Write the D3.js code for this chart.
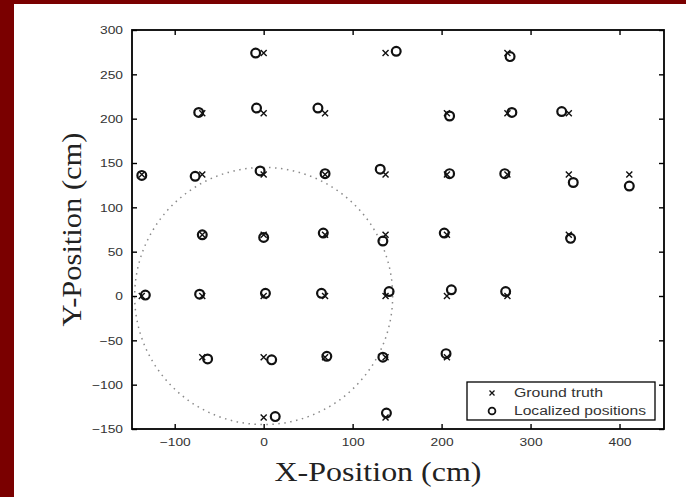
<!DOCTYPE html>
<html>
<head>
<meta charset="utf-8">
<script src="https://cdn.jsdelivr.net/npm/d3@7"></script>
<style>
  body { margin: 0; background: #7a0000; }
  svg { display: block; }
</style>
</head>
<body>
<svg id="chart"></svg>
<script>
// ground truth grid positions (cm)
var truthX = [0, 137, 274,
              -69, 0, 69, 206, 274, 343,
              -137, -69, 0, 69, 137, 206, 274, 343, 411,
              -69, 0, 69, 137, 206, 343,
              -137, -69, 0, 69, 137, 206, 274,
              -69, 0, 69, 137, 206,
              0, 137];
var truthY = [274, 274, 274,
              206, 206, 206, 206, 206, 206,
              137, 137, 137, 137, 137, 137, 137, 137, 137,
              69, 69, 69, 69, 69, 69,
              0, 0, 0, 0, 0, 0, 0,
              -69, -69, -69, -69, -69,
              -137, -137];
// localized positions (cm)
var locX = [-9, 149, 277,
            -73, -8, 61, 209, 279, 335,
            -137, -77, -4, 69, 131, 209, 271, 348, 411,
            -69, 0, 67, 134, 203, 345,
            -133, -72, 2, 65, 141, 211, 272,
            -63, 9, 71, 134, 205,
            13, 138];
var locY = [274, 276, 270,
            207, 212, 212, 203, 207, 208,
            136, 135, 141, 138, 143, 138, 138, 128, 124,
            69, 66, 71, 62, 71, 65,
            1, 2, 3, 3, 5, 7, 5,
            -71, -72, -68, -69, -65,
            -136, -132];

var xTicks = [-100, 0, 100, 200, 300, 400];
var yTicks = [-150, -100, -50, 0, 50, 100, 150, 200, 250, 300];
var legendLabels = ["Ground truth", "Localized positions"];
var coverageRadius = 145; // dotted circle, cm

var W = 686, H = 497;
var margin = { top: 30, right: 22, bottom: 68, left: 132 };

var svg = d3.select("#chart").attr("width", W).attr("height", H);

// red frame + white page
svg.append("rect").attr("width", W).attr("height", H).attr("fill", "#7a0000");
svg.append("rect").attr("x", 14).attr("y", 4)
    .attr("width", W - 14).attr("height", H - 4).attr("fill", "#fff");

var x = d3.scaleLinear().domain([-148, 450]).range([margin.left, W - margin.right]);
var y = d3.scaleLinear().domain([-150, 300]).range([H - margin.bottom, margin.top]);

var tickFont = "'Liberation Sans', Arial, sans-serif";

function styleAxis(g) {
    g.select(".domain").remove();
    g.selectAll(".tick line").attr("stroke", "#000").attr("stroke-width", 1.4);
    g.selectAll("text").attr("fill", "#333")
        .style("font-family", tickFont).style("font-size", "11.5px");
}

// bottom axis
svg.append("g")
    .attr("transform", "translate(0," + y.range()[0] + ")")
    .call(d3.axisBottom(x).tickValues(xTicks).tickSizeInner(-5).tickSizeOuter(0).tickPadding(9))
    .call(styleAxis)
    .selectAll("text").attr("transform", "scale(1.2,1)");

// left axis
svg.append("g")
    .attr("transform", "translate(" + x.range()[0] + ",0)")
    .call(d3.axisLeft(y).tickValues(yTicks).tickSizeInner(-5).tickSizeOuter(0).tickPadding(9))
    .call(styleAxis)
    .selectAll("text").attr("x", -9 / 1.2).attr("transform", "scale(1.2,1)");

// top and right ticks, no labels
svg.append("g")
    .attr("transform", "translate(0," + y.range()[1] + ")")
    .call(d3.axisTop(x).tickValues(xTicks).tickSizeInner(-5).tickSizeOuter(0).tickFormat(""))
    .call(styleAxis);
svg.append("g")
    .attr("transform", "translate(" + x.range()[1] + ",0)")
    .call(d3.axisRight(y).tickValues(yTicks).tickSizeInner(-5).tickSizeOuter(0).tickFormat(""))
    .call(styleAxis);

// box
svg.append("rect")
    .attr("x", x.range()[0]).attr("y", y.range()[1])
    .attr("width", x.range()[1] - x.range()[0])
    .attr("height", y.range()[0] - y.range()[1])
    .attr("fill", "none").attr("stroke", "#000").attr("stroke-width", 1.8);

// dotted coverage circle
svg.append("ellipse")
    .attr("cx", x(0)).attr("cy", y(0))
    .attr("rx", x(coverageRadius) - x(0))
    .attr("ry", y(0) - y(coverageRadius))
    .attr("fill", "none").attr("stroke", "#8a8a8a")
    .attr("stroke-width", 1.5).attr("stroke-dasharray", "1.5,4.5");

var crossPath = "M-3,-3L3,3M-3,3L3,-3";

// ground truth
svg.append("g").selectAll("path")
    .data(truthX.map(function (d, i) { return [d, truthY[i]]; }))
    .enter().append("path")
    .attr("transform", function (d) { return "translate(" + x(d[0]) + "," + y(d[1]) + ")"; })
    .attr("d", crossPath)
    .attr("stroke", "#111").attr("stroke-width", 1.4);

// localized
svg.append("g").selectAll("circle")
    .data(locX.map(function (d, i) { return [d, locY[i]]; }))
    .enter().append("circle")
    .attr("cx", function (d) { return x(d[0]); })
    .attr("cy", function (d) { return y(d[1]); })
    .attr("r", 4.4)
    .attr("fill", "none").attr("stroke", "#111").attr("stroke-width", 2.2);

// legend
var legend = svg.append("g").attr("transform", "translate(467,382)");
legend.append("rect").attr("width", 188).attr("height", 38)
    .attr("fill", "#fff").attr("stroke", "#000").attr("stroke-width", 1.3);
legend.append("path").attr("transform", "translate(25,11)")
    .attr("d", "M-2.5,-2.5L2.5,2.5M-2.5,2.5L2.5,-2.5")
    .attr("stroke", "#111").attr("stroke-width", 1.3);
legend.append("circle").attr("cx", 25).attr("cy", 29).attr("r", 3.4)
    .attr("fill", "none").attr("stroke", "#111").attr("stroke-width", 1.8);
var legendWidths = [89, 132];
legend.selectAll("text.lbl")
    .data(legendLabels)
    .enter().append("text")
    .attr("class", "lbl")
    .attr("x", 47)
    .attr("y", function (d, i) { return 15 + i * 18; })
    .attr("textLength", function (d, i) { return legendWidths[i]; })
    .attr("lengthAdjust", "spacingAndGlyphs")
    .style("font-family", tickFont).style("font-size", "12px")
    .attr("fill", "#333")
    .text(function (d) { return d; });

// axis titles
var titleFont = "'Liberation Serif', 'Times New Roman', serif";
svg.append("text")
    .attr("x", 378).attr("y", 481)
    .attr("text-anchor", "middle")
    .attr("textLength", 207).attr("lengthAdjust", "spacingAndGlyphs")
    .style("font-family", titleFont).style("font-size", "27px")
    .attr("fill", "#222")
    .text("X-Position (cm)");

svg.append("text")
    .attr("transform", "translate(81," + ((y.range()[0] + y.range()[1]) / 2) + ") rotate(-90)")
    .attr("text-anchor", "middle")
    .attr("textLength", 194).attr("lengthAdjust", "spacingAndGlyphs")
    .style("font-family", titleFont).style("font-size", "27px")
    .attr("fill", "#222")
    .text("Y-Position (cm)");
</script>
</body>
</html>
